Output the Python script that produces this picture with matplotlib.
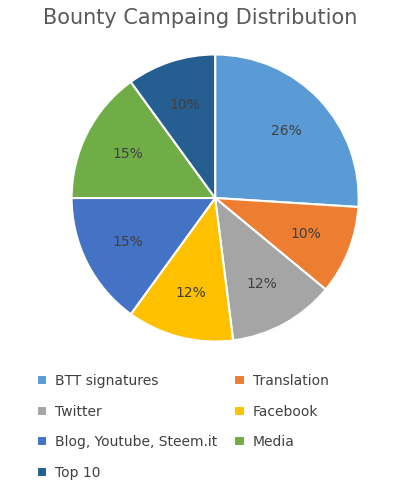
import matplotlib
matplotlib.use("Agg")
import matplotlib.pyplot as plt

categories = ["BTT signatures", "Translation", "Twitter", "Facebook",
              "Blog, Youtube, Steem.it", "Media", "Top 10"]
values = [26, 10, 12, 12, 15, 15, 10]
colors = ["#5B9BD5", "#ED7D31", "#A5A5A5", "#FFC000", "#4472C4", "#70AD47", "#255E91"]

fig = plt.figure(figsize=(4.01, 4.95), dpi=100)
ax = fig.add_axes([0.175, 0.307, 0.723, 0.586])
wedges, texts = ax.pie(values, colors=colors, startangle=90, counterclock=False,
                       labels=[f"{v}%" for v in values], labeldistance=0.68,
                       wedgeprops=dict(edgecolor="white", linewidth=1.5),
                       textprops=dict(color="#404040", fontsize=10))
for t in texts:
    t.set_horizontalalignment("center")
ax.set_xlim(-1.01, 1.01)
ax.set_ylim(-1.01, 1.01)
ax.set_aspect("equal")
fig.text(0.5, 0.963, "Bounty Campaing Distribution", ha="center", va="center",
         fontsize=15, color="#595959")

order = [0, 2, 4, 6, 1, 3, 5]
leg = fig.legend([wedges[i] for i in order], [categories[i] for i in order],
                 ncol=2, loc="upper left", bbox_to_anchor=(0.06, 0.27),
                 frameon=False, fontsize=10, handlelength=0.75, handleheight=0.75,
                 labelspacing=1.2, columnspacing=1.2, handletextpad=0.6,
                 labelcolor="#404040")
fig.savefig("out.png", dpi=100)
